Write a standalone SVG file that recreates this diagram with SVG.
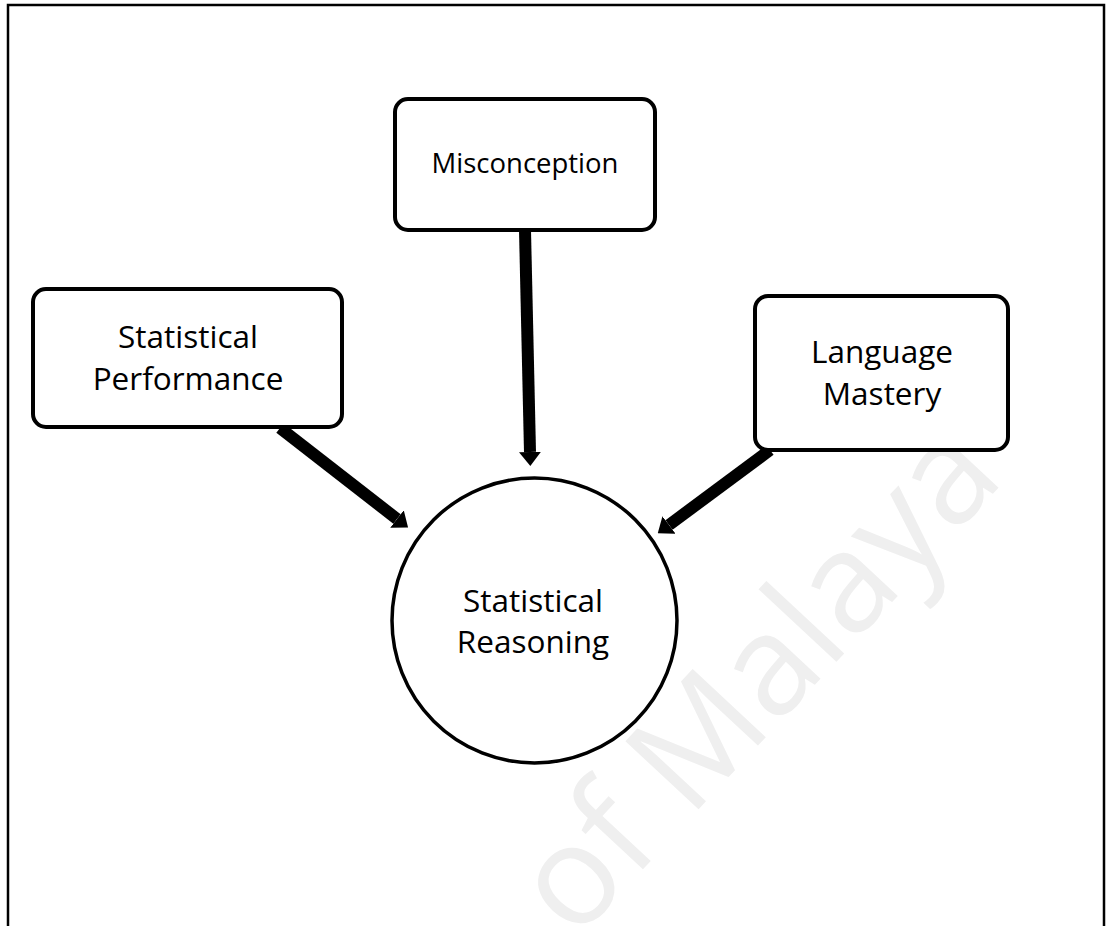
<svg xmlns="http://www.w3.org/2000/svg" width="1109" height="926" viewBox="0 0 1109 926">
  <style>
    .box { fill: #ffffff; stroke: #000000; stroke-width: 4; }
    .hub { fill: #ffffff; stroke: #000000; stroke-width: 3.5; }
    .label { font-family: "Open Sans", "Noto Sans", sans-serif; fill: #000000; text-anchor: middle; }
    .link { fill: none; stroke: #000000; stroke-width: 12; marker-end: url(#head); }
    .frame { fill: none; stroke: #000000; stroke-width: 2.5; }
    .mark { font-family: "Open Sans", "Noto Sans", sans-serif; fill: #efefef; }
  </style>
  <defs>
    <marker id="head" markerUnits="userSpaceOnUse" viewBox="0 0 14 22" refX="0" refY="11" markerWidth="14" markerHeight="22" orient="auto">
      <path d="M0,0 L14,11 L0,22 z" fill="#000000"/>
    </marker>
  </defs>

  <rect width="1109" height="926" fill="#ffffff"/>

  <!-- background watermark -->
  <text class="mark" font-size="140" transform="translate(575,942) rotate(-47)">of Malaya</text>

  <!-- outer frame, open at the bottom -->
  <path class="frame" d="M8,926 V5 H1104 V926"/>

  <!-- connectors -->
  <g id="connectors">
    <path class="link" d="M525,230 L530,452"/>
    <path class="link" d="M280,428 L397,519"/>
    <path class="link" d="M770,450 L669,525"/>
  </g>

  <g id="node-misconception">
    <rect class="box" x="395" y="99" width="260" height="131" rx="13"/>
    <text class="label" x="525" y="173" font-size="27.5">Misconception</text>
  </g>

  <g id="node-statistical-performance">
    <rect class="box" x="33" y="289" width="309" height="138" rx="13"/>
    <text class="label" x="188" y="348" font-size="31.5">Statistical</text>
    <text class="label" x="188" y="390" font-size="31.5">Performance</text>
  </g>

  <g id="node-language-mastery">
    <rect class="box" x="755" y="296" width="253" height="154" rx="13"/>
    <text class="label" x="882" y="363" font-size="31.5">Language</text>
    <text class="label" x="882" y="405" font-size="31.5">Mastery</text>
  </g>

  <g id="node-statistical-reasoning">
    <circle class="hub" cx="534.5" cy="620.5" r="142.5"/>
    <text class="label" x="533" y="612" font-size="31.5">Statistical</text>
    <text class="label" x="533" y="653" font-size="31.5">Reasoning</text>
  </g>
</svg>
